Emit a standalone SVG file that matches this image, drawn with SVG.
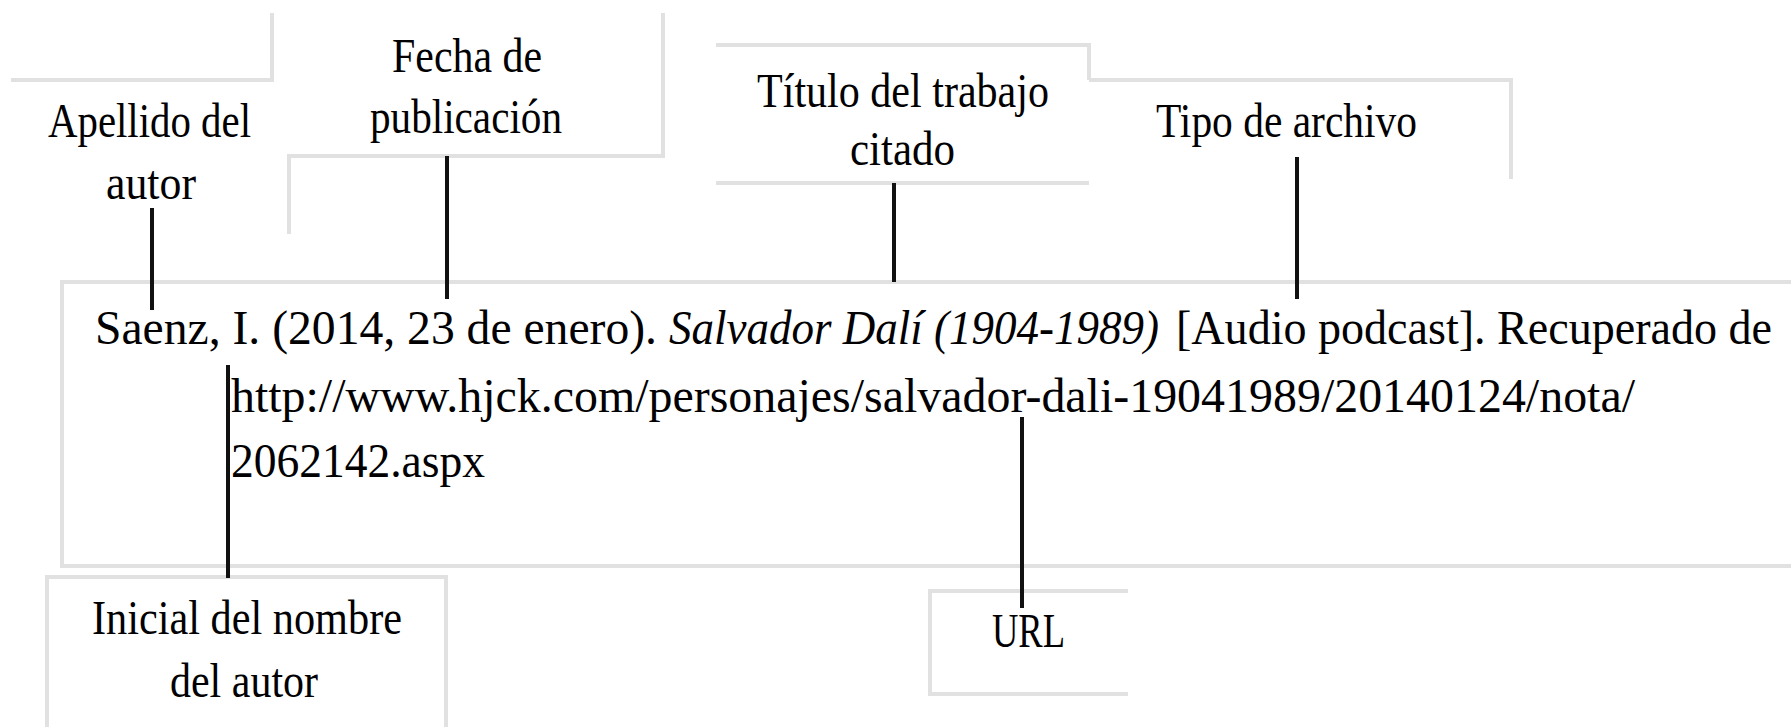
<svg xmlns="http://www.w3.org/2000/svg" width="1791" height="727" viewBox="0 0 1791 727">
  <style>
    .frame { fill: none; stroke: #e1e1e1; stroke-width: 4; }
    .conn { fill: none; stroke: #111111; stroke-width: 4; }
    .lbl { font-family: "Liberation Serif", "DejaVu Serif", serif; font-size: 48px; fill: #000000; }
    .ref { font-family: "Liberation Serif", "DejaVu Serif", serif; font-size: 48px; fill: #000000; }
    .it { font-style: italic; }
  </style>
  <rect x="0" y="0" width="1791" height="727" fill="#ffffff"/>

  <g id="n-apellido">
    <polyline class="frame" points="11,80 272,80 272,13"/>
    <text class="lbl" x="48" y="137" textLength="203" lengthAdjust="spacingAndGlyphs">Apellido del</text>
    <text class="lbl" x="106" y="199" textLength="90" lengthAdjust="spacingAndGlyphs">autor</text>
  </g>

  <g id="n-fecha">
    <polyline class="frame" points="663,13 663,156 289,156 289,234"/>
    <text class="lbl" x="392" y="72" textLength="150" lengthAdjust="spacingAndGlyphs">Fecha de</text>
    <text class="lbl" x="370" y="133" textLength="192" lengthAdjust="spacingAndGlyphs">publicación</text>
  </g>

  <g id="n-titulo">
    <polyline class="frame" points="716,45 1089,45 1089,80"/>
    <line class="frame" x1="716" y1="183" x2="1089" y2="183"/>
    <text class="lbl" x="757" y="107" textLength="292" lengthAdjust="spacingAndGlyphs">Título del trabajo</text>
    <text class="lbl" x="850" y="165" textLength="105" lengthAdjust="spacingAndGlyphs">citado</text>
  </g>

  <g id="n-tipo">
    <polyline class="frame" points="1089,80 1511,80 1511,179"/>
    <text class="lbl" x="1156" y="137" textLength="261" lengthAdjust="spacingAndGlyphs">Tipo de archivo</text>
  </g>

  <g id="n-referencia">
    <polyline class="frame" points="1795,282 62,282 62,566 1795,566"/>
    <text class="ref" y="344">
      <tspan x="95" textLength="562" lengthAdjust="spacingAndGlyphs">Saenz, I. (2014, 23 de enero).</tspan>
    </text>
    <text class="ref it" x="669" y="344" textLength="490" lengthAdjust="spacingAndGlyphs">Salvador Dalí (1904-1989)</text>
    <text class="ref" x="1176" y="344" textLength="596" lengthAdjust="spacingAndGlyphs">[Audio podcast]. Recuperado de</text>
    <text class="ref" x="231" y="412" textLength="1404" lengthAdjust="spacingAndGlyphs">http://www.hjck.com/personajes/salvador-dali-19041989/20140124/nota/</text>
    <text class="ref" x="231" y="477" textLength="254" lengthAdjust="spacingAndGlyphs">2062142.aspx</text>
  </g>

  <g id="n-inicial">
    <polyline class="frame" points="47,730 47,577 446,577 446,730"/>
    <text class="lbl" x="92" y="634" textLength="310" lengthAdjust="spacingAndGlyphs">Inicial del nombre</text>
    <text class="lbl" x="170" y="697" textLength="148" lengthAdjust="spacingAndGlyphs">del autor</text>
  </g>

  <g id="n-url">
    <polyline class="frame" points="1128,591 930,591 930,694 1128,694"/>
    <text class="lbl" x="992" y="647" textLength="73" lengthAdjust="spacingAndGlyphs">URL</text>
  </g>

  <g id="connectors">
    <line class="conn" x1="152" y1="208" x2="152" y2="310"/>
    <line class="conn" x1="447" y1="156" x2="447" y2="299"/>
    <line class="conn" x1="894" y1="183" x2="894" y2="282"/>
    <line class="conn" x1="1297" y1="157" x2="1297" y2="299"/>
    <line class="conn" x1="228" y1="365" x2="228" y2="578"/>
    <line class="conn" x1="1022" y1="417" x2="1022" y2="608"/>
  </g>
</svg>
